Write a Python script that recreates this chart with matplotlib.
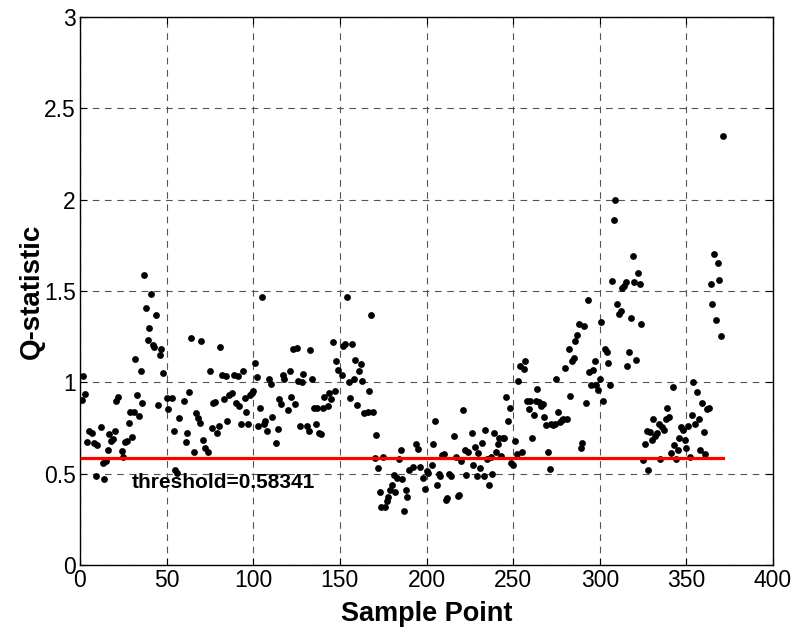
import matplotlib
matplotlib.use("Agg")
import matplotlib.pyplot as plt

plt.rcParams['font.family'] = ['Liberation Sans', 'DejaVu Sans']

# Q-statistic per sample point
sample_idx = [
    1, 2, 3, 4, 5, 7, 8, 9, 10, 12, 13, 14, 15, 16, 17, 18, 19, 20, 21, 22,
    24, 25, 26, 27, 28, 29, 30, 31, 32, 33, 34, 35, 36, 37, 38, 39, 40, 41, 42, 43,
    44, 45, 46, 47, 48, 50, 51, 53, 54, 55, 56, 57, 60, 61, 62, 63, 64, 66, 67, 68,
    69, 70, 71, 72, 74, 75, 76, 77, 78, 79, 80, 81, 82, 83, 84, 85, 86, 88, 89, 90,
    91, 92, 93, 94, 95, 96, 97, 98, 99, 100, 101, 102, 103, 104, 105, 106, 107, 108, 109, 110,
    111, 113, 114, 115, 116, 117, 118, 120, 121, 122, 123, 124, 125, 126, 127, 128, 129, 131, 132, 133,
    134, 135, 136, 137, 138, 139, 140, 141, 143, 144, 145, 146, 147, 148, 149, 151, 152, 153, 154, 155,
    156, 157, 158, 159, 160, 161, 162, 163, 164, 166, 167, 168, 169, 170, 171, 172, 173, 174, 175, 176,
    177, 178, 179, 180, 181, 182, 183, 184, 185, 186, 187, 188, 189, 190, 192, 194, 195, 196, 198, 199,
    200, 201, 203, 204, 205, 206, 207, 208, 209, 210, 211, 212, 213, 214, 216, 217, 218, 219, 220, 221,
    222, 223, 224, 226, 227, 228, 229, 230, 231, 232, 233, 234, 235, 236, 237, 238, 239, 240, 241, 242,
    243, 244, 245, 246, 247, 248, 249, 250, 251, 252, 253, 254, 255, 256, 257, 258, 259, 260, 261, 262,
    263, 264, 265, 266, 267, 268, 269, 270, 271, 272, 273, 274, 275, 276, 277, 278, 279, 280, 281, 282,
    283, 284, 285, 286, 287, 288, 289, 290, 291, 292, 293, 294, 295, 296, 297, 298, 299, 300, 301, 302,
    303, 304, 305, 306, 307, 308, 309, 310, 311, 312, 313, 314, 315, 316, 317, 318, 319, 320, 321, 322,
    323, 324, 325, 326, 327, 328, 329, 330, 331, 332, 333, 334, 335, 336, 337, 338, 339, 340, 341, 342,
    343, 344, 345, 346, 347, 348, 349, 350, 351, 352, 353, 354, 355, 356, 357, 358, 359, 360, 361, 362,
    363, 364, 365, 366, 367, 368, 369, 370, 371,
]
q_values = [
    0.905, 1.037, 0.938, 0.676, 0.734, 0.721, 0.667, 0.487, 0.657, 0.755, 0.557, 0.472, 0.570, 0.630, 0.716, 0.680, 0.690, 0.736, 0.900, 0.920,
    0.623, 0.590, 0.676, 0.680, 0.780, 0.840, 0.700, 0.840, 1.130, 0.930, 0.818, 1.060, 0.886, 1.590, 1.405, 1.230, 1.300, 1.485, 1.207, 1.194,
    1.370, 0.877, 1.147, 1.180, 1.050, 0.914, 0.853, 0.914, 0.736, 0.520, 0.506, 0.807, 0.896, 0.676, 0.720, 0.947, 1.240, 0.620, 0.830, 0.804,
    0.780, 1.229, 0.685, 0.640, 0.620, 1.064, 0.750, 0.886, 0.895, 0.720, 0.760, 1.194, 1.042, 0.910, 1.037, 0.790, 0.932, 0.941, 1.042, 0.886,
    1.033, 0.868, 0.770, 1.064, 0.914, 0.840, 0.770, 0.930, 0.940, 0.950, 1.106, 1.027, 0.760, 0.860, 1.467, 0.770, 0.790, 0.735, 1.018, 0.993,
    0.810, 0.667, 0.745, 0.910, 0.880, 1.042, 1.018, 0.850, 1.064, 0.920, 1.180, 0.880, 1.186, 1.009, 0.760, 1.000, 1.046, 0.760, 0.735, 1.176,
    1.020, 0.860, 0.770, 0.860, 0.720, 0.715, 0.860, 0.920, 0.868, 0.940, 0.910, 1.220, 0.955, 1.115, 1.070, 1.040, 1.198, 1.210, 1.467, 1.000,
    0.914, 1.210, 1.020, 1.125, 0.877, 1.060, 1.103, 1.010, 0.830, 0.840, 0.955, 1.368, 0.840, 0.584, 0.710, 0.530, 0.400, 0.320, 0.593, 0.320,
    0.350, 0.370, 0.410, 0.440, 0.490, 0.400, 0.475, 0.580, 0.630, 0.470, 0.297, 0.410, 0.375, 0.520, 0.535, 0.660, 0.635, 0.535, 0.475, 0.416,
    0.514, 0.505, 0.547, 0.660, 0.790, 0.440, 0.500, 0.485, 0.604, 0.610, 0.358, 0.367, 0.500, 0.485, 0.704, 0.590, 0.376, 0.385, 0.567, 0.850,
    0.630, 0.495, 0.620, 0.720, 0.546, 0.646, 0.485, 0.613, 0.530, 0.668, 0.485, 0.739, 0.580, 0.440, 0.590, 0.500, 0.723, 0.620, 0.660, 0.697,
    0.595, 0.697, 0.697, 0.920, 0.790, 0.860, 0.558, 0.546, 0.677, 0.610, 1.010, 1.090, 0.620, 1.075, 1.115, 0.896, 0.854, 0.896, 0.697, 0.820,
    0.900, 0.963, 0.890, 0.868, 0.880, 0.810, 0.764, 0.620, 0.525, 0.772, 0.764, 0.772, 1.020, 0.840, 0.785, 0.794, 0.800, 1.080, 0.800, 1.185,
    0.923, 1.115, 1.135, 1.225, 1.260, 1.320, 0.640, 0.666, 1.310, 0.886, 1.450, 1.057, 0.984, 1.070, 1.115, 0.984, 0.956, 1.018, 1.330, 0.900,
    1.180, 1.165, 1.105, 0.984, 1.555, 1.890, 2.000, 1.430, 1.374, 1.390, 1.517, 1.525, 1.547, 1.088, 1.167, 1.350, 1.690, 1.547, 1.125, 1.600,
    1.536, 1.320, 0.575, 0.662, 0.735, 0.520, 0.726, 0.686, 0.797, 0.704, 0.722, 0.770, 0.580, 0.756, 0.740, 0.800, 0.857, 0.810, 0.615, 0.972,
    0.655, 0.580, 0.630, 0.695, 0.753, 0.740, 0.685, 0.642, 0.760, 0.590, 0.823, 1.000, 0.770, 0.945, 0.800, 0.630, 0.885, 0.726, 0.610, 0.853,
    0.860, 1.540, 1.430, 1.700, 1.340, 1.655, 1.560, 1.255, 2.350,
]
threshold = 0.58341

x_ticks = [0, 50, 100, 150, 200, 250, 300, 350, 400]
y_ticks = [0, 0.5, 1, 1.5, 2, 2.5, 3]
y_tick_labels = ['0', '0.5', '1', '1.5', '2', '2.5', '3']

fig = plt.figure(figsize=(7.97, 6.30), dpi=100)
ax = fig.add_axes([80 / 797, 65 / 630, 693 / 797, 548 / 630])

ax.plot(sample_idx, q_values, 'o', color='black', markersize=4.9,
        markeredgewidth=0, zorder=3)
ax.plot([sample_idx[0], sample_idx[-1]], [threshold, threshold],
        color='red', linewidth=2.3, zorder=4)
ax.text(30, 0.45, 'threshold=%.5f' % threshold, fontsize=15,
        fontweight='bold', va='center', ha='left', zorder=5)

ax.set_xlim(0, 400)
ax.set_ylim(0, 3)
ax.set_xticks(x_ticks)
ax.set_yticks(y_ticks)
ax.set_yticklabels(y_tick_labels)
ax.tick_params(direction='in', top=True, right=True, labelsize=16.5,
               length=5, width=0.8, colors='black', pad=3)
ax.grid(True, color='#555555', linestyle=(0, (6, 5)), linewidth=0.8)
ax.set_axisbelow(True)
for s in ax.spines.values():
    s.set_linewidth(1.0)
    s.set_color('black')

ax.set_xlabel('Sample Point', fontsize=19.5, fontweight='bold')
ax.set_ylabel('Q-statistic', fontsize=20, fontweight='bold')
ax.xaxis.set_label_coords(0.5, -0.066)
ax.yaxis.set_label_coords(-0.07, 0.5)
ax.xaxis.label.set_va('top')
ax.yaxis.label.set_va('center')

fig.savefig('out.png', dpi=100)
